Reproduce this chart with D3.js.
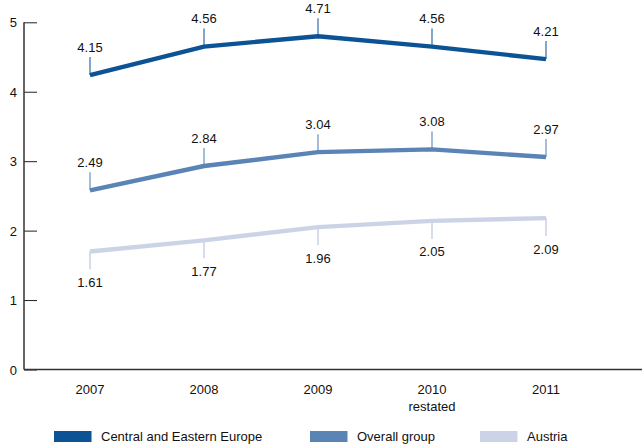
<!DOCTYPE html>
<html><head><meta charset="utf-8">
<script src="https://cdn.jsdelivr.net/npm/d3@7"></script>
<style>body{margin:0;background:#fff}svg{display:block;font-family:"Liberation Sans",Arial,sans-serif}</style>
</head><body>
<script>
const years = ["2007","2008","2009","2010","2011"];
const yearSub = ["","","","restated",""];
const seriesNames = ["Central and Eastern Europe","Overall group","Austria"];
// printed value labels
const cee = [4.15,4.56,4.71,4.56,4.21];
const overall = [2.49,2.84,3.04,3.08,2.97];
const austria = [1.61,1.77,1.96,2.05,2.09];
// values as plotted in the picture (the 2011 CEE point sits higher than its label)
const ceePlotted = [4.15,4.56,4.71,4.56,4.38];
const yTicks = [0,1,2,3,4,5];

const colors = ["#0b5394","#5a83b6","#cdd3e6"];
const leaderColors = ["#2f6aa6","#6a90c0","#bcc4dc"];
const labelSide = [-1,-1,1];
const labelData = [cee, overall, austria];
const plotData = [ceePlotted, overall, austria];

const W=642,H=445;
const svg=d3.select("body").append("svg").attr("width",W).attr("height",H);
const y=d3.scaleLinear().domain([0,5]).range([369.5,22.3]);
const yLine=y.copy().domain([-0.09,4.91]);
const x=d3.scalePoint().domain(years).range([90,546]);

// y axis
const yAxis=svg.append("g").attr("transform","translate(24,0)")
  .call(d3.axisRight(y).tickValues(yTicks).tickSize(13).tickFormat(d3.format("d")));
yAxis.select(".domain").remove();
yAxis.selectAll(".tick line").attr("stroke","#222");
yAxis.selectAll(".tick text").attr("x",-7).attr("text-anchor","end").attr("font-size",13).attr("fill","#111").attr("dy","0.35em");
svg.append("line").attr("x1",24).attr("x2",24).attr("y1",y(5)).attr("y2",y(0)).attr("stroke","#333").attr("stroke-width",1.5);
svg.append("line").attr("x1",24).attr("x2",W).attr("y1",y(0)).attr("y2",y(0)).attr("stroke","#333").attr("stroke-width",1.5);

// x labels
const xl=svg.append("g");
years.forEach((yr,i)=>{
  xl.append("text").attr("x",x(yr)).attr("y",394).attr("text-anchor","middle").attr("font-size",13).attr("fill","#111").text(yr);
  if(yearSub[i]) xl.append("text").attr("x",x(yr)).attr("y",411).attr("text-anchor","middle").attr("font-size",13).attr("fill","#111").text(yearSub[i]);
});

const line=d3.line().x((d,i)=>x(years[i])).y(d=>yLine(d));
[2,1,0].forEach(s=>{
  const g=svg.append("g");
  const vals=plotData[s];
  vals.forEach((v,i)=>{
    const px=x(years[i]), py=yLine(v);
    const dir=labelSide[s];
    g.append("line").attr("x1",px).attr("x2",px).attr("y1",py).attr("y2",py+dir*18)
      .attr("stroke",leaderColors[s]).attr("stroke-width",1.2);
    g.append("text").attr("x",px).attr("y",dir<0?py-23.5:py+35.5).attr("text-anchor","middle")
      .attr("font-size",13).attr("fill","#111").text(d3.format(".2f")(labelData[s][i]));
  });
  g.append("path").datum(vals).attr("d",line).attr("fill","none").attr("stroke",colors[s]).attr("stroke-width",4.4).attr("stroke-linejoin","miter");
});

// legend
const legX=[54,310,480];
seriesNames.forEach((n,i)=>{
  svg.append("rect").attr("x",legX[i]).attr("y",431).attr("width",37.5).attr("height",11).attr("fill",colors[i]);
  svg.append("text").attr("x",legX[i]+47).attr("y",441).attr("font-size",13).attr("fill","#111").text(n);
});
</script>
</body></html>
